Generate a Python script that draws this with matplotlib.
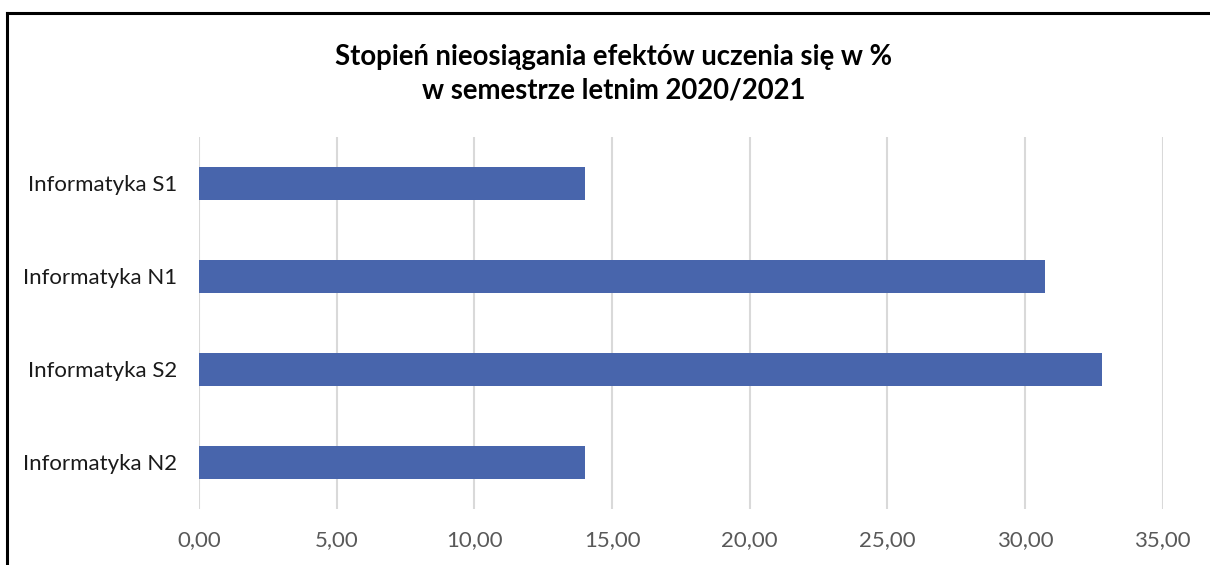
import matplotlib.pyplot as plt
from matplotlib.lines import Line2D
from matplotlib.ticker import FuncFormatter

# data
categories = ["Informatyka S1", "Informatyka N1", "Informatyka S2", "Informatyka N2"]
values = [14.00, 30.73, 32.79, 14.03]
x_ticks = [0, 5, 10, 15, 20, 25, 30, 35]

plt.rcParams["font.family"] = ["Lato", "DejaVu Sans"]

fig = plt.figure(figsize=(12.1, 5.65), dpi=100)
ax = fig.add_axes([0.1645, 0.0991, 0.961 - 0.1645, 0.7584 - 0.0991])

pos = list(range(len(categories)))
ax.barh(pos, values, height=0.355, color="#4865ac", zorder=3)
ax.set_ylim(len(categories) - 0.5, -0.5)
ax.set_yticks(pos)
ax.set_yticklabels(categories, fontsize=16, color="#1a1a1a")

ax.set_xlim(0, 35)
ax.set_xticks(x_ticks)
ax.xaxis.set_major_formatter(FuncFormatter(lambda v, p: f"{v:.2f}".replace(".", ",")))
ax.tick_params(axis="x", length=0, pad=15, labelsize=16, labelcolor="#595959")
ax.tick_params(axis="y", length=0, pad=16)
ax.grid(axis="x", color="#d9d9d9", linewidth=1.5, zorder=0)
for s in ax.spines.values():
    s.set_visible(False)

fig.text(0.507, 1 - 57 / 565, "Stopień nieosiągania efektów uczenia się w %",
         ha="center", va="center", fontsize=19.8, fontweight="bold")
fig.text(0.507, 1 - 90 / 565, "w semestrze letnim 2020/2021",
         ha="center", va="center", fontsize=19.8, fontweight="bold")

# outer frame (left and top only visible)
fig.add_artist(Line2D([7 / 1210, 7 / 1210], [0, 1 - 13 / 565], color="black", linewidth=2.2,
                      transform=fig.transFigure))
fig.add_artist(Line2D([7 / 1210, 1], [1 - 13 / 565, 1 - 13 / 565], color="black", linewidth=2.2,
                      transform=fig.transFigure))

fig.savefig("out.png", dpi=100)
